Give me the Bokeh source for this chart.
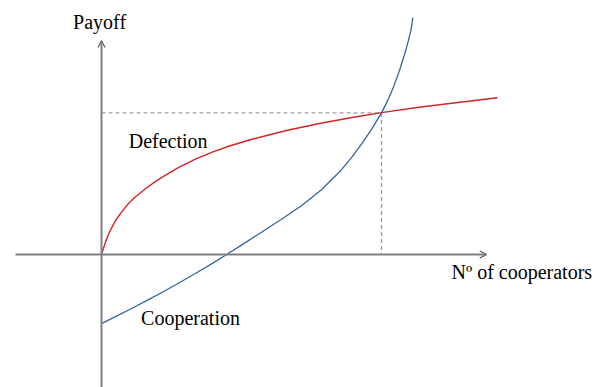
from bokeh.plotting import figure
from bokeh.models import Range1d, Arrow, OpenHead
from bokeh.core.properties import value
from bokeh.embed import file_html
from bokeh.resources import INLINE

# ---- data ----
defect_n = [0, 0.05, 0.1, 0.18, 0.26, 0.35, 0.5, 0.68, 0.85, 1.1, 1.3, 1.52, 1.93, 2.35, 2.77,
            3.18, 3.8, 4.65, 5.48, 6.3, 7.0, 7.98, 9.9]
defect_payoff = [0, 0.158, 0.31, 0.518, 0.68, 0.85, 1.06, 1.28, 1.445, 1.645, 1.79, 1.935, 2.177, 2.383, 2.559,
                 2.707, 2.893, 3.105, 3.28, 3.431, 3.547, 3.689, 3.92]

coop_n = [0, 0.4, 0.8, 1.2, 1.6, 2.0, 2.4, 2.75, 3.1, 3.5, 4.0, 4.5, 5.0, 5.5, 6.0, 6.25, 6.5, 6.75,
          7.0, 7.15, 7.3, 7.45, 7.6, 7.67, 7.73, 7.755, 7.78]
coop_payoff = [-1.73, -1.53, -1.325, -1.115, -0.9, -0.675, -0.445, -0.235, -0.02, 0.235, 0.555, 0.88,
               1.22, 1.62, 2.12, 2.42, 2.76, 3.13, 3.54, 3.84, 4.19, 4.6, 5.08, 5.34, 5.58, 5.72, 5.92]

equilibrium_n = 7.0
equilibrium_payoff = 3.54

x_axis_min, x_axis_max = -2.15, 9.63
y_axis_min, y_axis_max = -3.4, 5.35

label_texts = ["Payoff", "Defection", "Cooperation", "Nº of cooperators"]
label_x = [-0.71, 0.68, 0.99, 8.75]
label_y = [5.82, 2.84, -1.58, -0.43]

AXIS_COLOR = "#7f7f7f"
RED = "#d42424"
BLUE = "#35649e"

p = figure(width=598, height=387,
           x_range=Range1d(-2.525, 12.425), y_range=Range1d(-3.325, 6.35),
           output_backend="svg", toolbar_location=None,
           x_axis_type=None, y_axis_type=None, min_border=0,
           outline_line_color=None, background_fill_color="white")

# axes with open arrowheads
p.add_layout(Arrow(end=OpenHead(size=7, line_color="#555555", line_width=1.1),
                   x_start=x_axis_min, y_start=0, x_end=x_axis_max, y_end=0,
                   line_color=AXIS_COLOR, line_width=2))
p.add_layout(Arrow(end=OpenHead(size=7, line_color="#555555", line_width=1.1),
                   x_start=0, y_start=y_axis_min, x_end=0, y_end=y_axis_max,
                   line_color=AXIS_COLOR, line_width=2))

# dashed guide lines to equilibrium
p.line([0, equilibrium_n], [equilibrium_payoff, equilibrium_payoff],
       line_color="#8a8a8a", line_width=1, line_dash="4 3")
p.line([equilibrium_n, equilibrium_n], [equilibrium_payoff, 0],
       line_color="#9a9a9a", line_width=1.3, line_dash="4 3")

# curves
p.line(defect_n, defect_payoff, line_color=RED, line_width=1.4, line_join="round")
p.line(coop_n, coop_payoff, line_color=BLUE, line_width=1.3, line_join="round")

# labels
p.text(x=label_x, y=label_y, text=label_texts,
       text_font=value("Liberation Serif"), text_font_size="20px",
       text_align="left", text_baseline="alphabetic", text_color="black")

open("out.html", "w").write(file_html(p, INLINE))
